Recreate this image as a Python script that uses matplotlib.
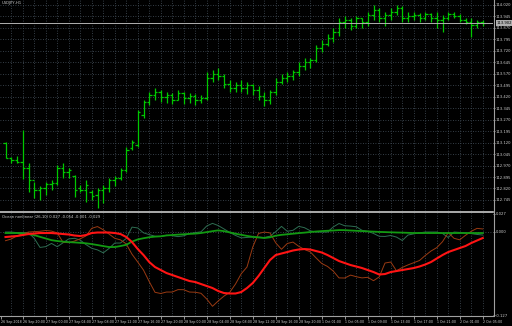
import numpy as np
import matplotlib
matplotlib.use("Agg")
import matplotlib.pyplot as plt

# USDJPY H1 bars
bar_open = [113.117, 113.020, 113.006, 112.993, 112.954, 112.876, 112.810, 112.823, 112.849, 112.856,
            112.954, 112.928, 112.902, 112.823, 112.810, 112.797, 112.777, 112.810, 112.823, 112.876,
            112.889, 112.941, 113.085, 113.104, 113.301, 113.386, 113.431, 113.451, 113.418, 113.431,
            113.399, 113.444, 113.412, 113.425, 113.399, 113.412, 113.543, 113.569, 113.556, 113.503,
            113.477, 113.497, 113.477, 113.497, 113.464, 113.425, 113.399, 113.451, 113.516, 113.543,
            113.556, 113.582, 113.621, 113.647, 113.660, 113.739, 113.765, 113.804, 113.843, 113.909,
            113.922, 113.883, 113.935, 113.909, 113.955, 113.987, 113.935, 113.955, 113.974, 114.000,
            113.935, 113.948, 113.955, 113.935, 113.961, 113.935, 113.922, 113.935, 113.961, 113.948,
            113.922, 113.909, 113.889, 113.909]
bar_high = [113.124, 113.026, 113.033, 113.203, 112.987, 112.862, 112.836, 112.862, 112.876, 112.974,
            112.987, 112.954, 112.908, 112.843, 112.876, 112.810, 112.823, 112.843, 112.889, 112.902,
            112.954, 113.091, 113.137, 113.333, 113.399, 113.451, 113.477, 113.464, 113.451, 113.444,
            113.464, 113.451, 113.444, 113.438, 113.431, 113.582, 113.595, 113.608, 113.569, 113.530,
            113.516, 113.530, 113.516, 113.503, 113.490, 113.451, 113.464, 113.543, 113.569, 113.582,
            113.595, 113.647, 113.673, 113.673, 113.758, 113.791, 113.830, 113.870, 113.935, 113.948,
            113.935, 113.948, 113.935, 113.974, 114.020, 114.000, 113.974, 114.000, 114.020, 114.013,
            113.974, 113.974, 113.968, 113.974, 113.968, 113.974, 113.955, 113.974, 113.974, 113.961,
            113.935, 113.935, 113.922, 113.922]
bar_low = [113.020, 112.987, 112.987, 112.882, 112.797, 112.758, 112.745, 112.777, 112.810, 112.843,
           112.889, 112.889, 112.764, 112.797, 112.732, 112.745, 112.693, 112.725, 112.797, 112.836,
           112.876, 112.928, 113.072, 113.091, 113.281, 113.366, 113.399, 113.386, 113.379, 113.373,
           113.399, 113.373, 113.379, 113.366, 113.379, 113.399, 113.516, 113.530, 113.477, 113.451,
           113.451, 113.451, 113.438, 113.431, 113.399, 113.359, 113.373, 113.431, 113.503, 113.516,
           113.530, 113.556, 113.595, 113.608, 113.647, 113.713, 113.752, 113.778, 113.817, 113.870,
           113.857, 113.870, 113.870, 113.883, 113.922, 113.909, 113.883, 113.922, 113.955, 113.909,
           113.909, 113.922, 113.909, 113.922, 113.909, 113.870, 113.843, 113.922, 113.935, 113.909,
           113.896, 113.811, 113.870, 113.883]
bar_close = [113.020, 113.006, 112.993, 112.954, 112.876, 112.810, 112.823, 112.849, 112.856, 112.954,
             112.928, 112.941, 112.810, 112.810, 112.843, 112.771, 112.810, 112.823, 112.876, 112.889,
             112.941, 113.072, 113.124, 113.320, 113.386, 113.431, 113.451, 113.418, 113.431, 113.399,
             113.444, 113.412, 113.425, 113.399, 113.412, 113.543, 113.569, 113.556, 113.503, 113.477,
             113.497, 113.477, 113.497, 113.464, 113.425, 113.399, 113.451, 113.516, 113.543, 113.556,
             113.582, 113.621, 113.647, 113.660, 113.739, 113.765, 113.804, 113.843, 113.909, 113.922,
             113.883, 113.935, 113.909, 113.955, 113.987, 113.935, 113.955, 113.974, 114.000, 113.935,
             113.948, 113.955, 113.935, 113.961, 113.935, 113.922, 113.935, 113.961, 113.948, 113.922,
             113.909, 113.889, 113.909, 113.902]

# indicator lines, in thousandths
red_line = [-8.3, -7.5, -6.8, -5.3, -3.8, -3.0, -2.3, -2.3, -2.3, -3.0, -3.8, -4.5, -6.0, -6.8, -5.3,
            -2.3, -1.5, -1.5, -1.5, -2.3, -3.8, -8.3, -15.8, -26.3, -35.3, -45.8, -53.3, -57.8, -62.3,
            -65.3, -68.3, -71.3, -74.3, -75.8, -78.8, -81.8, -84.8, -89.3, -92.3, -93.0, -93.0, -90.8,
            -84.8, -77.3, -66.8, -54.8, -42.8, -35.3, -33.0, -30.8, -28.5, -27.0, -26.3, -27.0, -29.3,
            -31.5, -35.3, -39.8, -44.3, -47.3, -50.3, -52.5, -54.8, -57.8, -60.8, -64.5, -63.8, -60.8,
            -59.3, -57.8, -56.3, -54.8, -52.5, -49.5, -45.8, -40.5, -35.3, -30.8, -27.8, -24.8, -21.8,
            -17.3, -13.5, -9.8]
brown_line = [-13.8, -11.3, -6.5, -3.5, -0.8, -0.2, 0.3, 1.5, 0.6, -2.1, -16.2, -16.8, -14.3, -11.0,
              -6.6, 4.8, 7.4, 2.6, -3.8, -10.2, -12.6, -18.6, -34.1, -45.8, -57.9, -75.2, -91.2, -93.0,
              -90.8, -90.8, -87.2, -87.3, -90.8, -91.1, -92.7, -101.3, -112.2, -104.1, -96.9, -91.2,
              -78.8, -63.3, -53.3, -23.3, -3.0, -0.9, -2.1, -17.1, -26.7, -18.0, -15.9, -22.2, -27.0,
              -30.5, -39.5, -48.0, -52.4, -59.3, -69.6, -69.8, -65.4, -67.8, -69.6, -68.7, -73.8, -68.1,
              -47.3, -45.8, -59.0, -53.9, -50.1, -46.8, -43.5, -36.0, -29.3, -24.2, -15.3, -1.7, -10.2,
              -12.5, -5.7, 0.3, 4.7, 3.8]
teal_line = [-0.8, -0.8, -1.7, -1.8, -1.7, -10.2, -23.9, -22.7, -17.9, -22.8, -17.0, -11.1, -10.2, -12.9,
             -19.7, -25.2, -27.6, -32.0, -25.5, -17.3, -17.3, -10.4, 6.6, 5.3, -2.0, -4.7, -7.1, -7.4,
             -5.7, -6.3, -7.7, -6.5, -3.0, -1.7, -0.5, 8.3, 12.2, 8.9, 3.8, -1.4, -5.9, -9.6, -8.9, -8.3,
             -8.3, -9.0, -7.1, -0.2, 7.7, 0.3, 1.8, 7.7, 5.7, 1.1, -0.8, -0.8, -0.8, 6.8, 12.0, 8.6, 8.1,
             7.1, 1.8, 0.2, -2.9, -7.2, -7.4, -6.0, -8.4, -13.5, -5.3, -3.6, -2.0, -0.8, -0.8, -0.8, -3.0,
             -9.0, -0.8, -1.4, -2.0, -3.2, -4.4, -5.3]
green_line = [-2.3, -2.3, -2.3, -2.7, -4.0, -5.4, -8.0, -10.5, -13.0, -14.3, -15.2, -15.9, -16.4, -17.0,
              -17.7, -18.9, -20.3, -21.9, -23.3, -23.3, -21.8, -20.0, -15.2, -11.9, -10.1, -8.6, -7.7,
              -7.2, -5.9, -5.3, -4.7, -4.2, -3.6, -3.2, -2.3, -0.9, 0.5, 1.7, 0.5, -1.4, -3.3, -5.0, -6.6,
              -8.0, -8.9, -9.8, -8.7, -6.3, -5.0, -4.2, -3.3, -2.4, -1.7, -0.8, 0.0, 0.6, 1.1, 1.5, 2.1,
              2.0, 1.5, 1.1, 0.6, 0.2, -0.2, -0.6, -0.9, -1.2, -1.5, -1.7, -2.0, -2.3, -2.3, -2.3, -2.3,
              -2.3, -2.3, -2.3, -2.3, -2.3, -2.3, -2.3, -2.3, -2.3]

price_labels = [114.020 - 0.075 * k for k in range(18)]
bid_price = 113.902
time_bars = [-0.75] + list(range(3, 84, 4))
time_labels = ["26 Sep 2018", "26 Sep 20:00", "27 Sep 00:00", "27 Sep 04:00", "27 Sep 08:00",
               "27 Sep 12:00", "27 Sep 16:00", "27 Sep 20:00", "28 Sep 00:00", "28 Sep 04:00",
               "28 Sep 08:00", "28 Sep 12:00", "28 Sep 16:00", "28 Sep 20:00", "1 Oct 01:00",
               "1 Oct 05:00", "1 Oct 09:00", "1 Oct 13:00", "1 Oct 17:00", "1 Oct 21:00",
               "2 Oct 01:00", "2 Oct 05:00"]

W, H = 512, 326
fig = plt.figure(figsize=(W / 100, H / 100), dpi=100)
fig.patch.set_facecolor("black")

grid_c = "#46525e"
txt_c = "#d0d0d0"
fs = 2.7

ax = fig.add_axes([0, (H - 211) / H, 493 / W, 211 / H], facecolor="black")
ax2 = fig.add_axes([0, (H - 316) / H, 493 / W, 103 / H], facecolor="black")

# bar i sits at pixel 5.5 + 5.75 * i
xl = (-5.5 / 5.75, (493 - 5.5) / 5.75)
for a in (ax, ax2):
    a.set_xlim(*xl)
    for s in a.spines.values():
        s.set_visible(False)
    for b in range(1, 84, 2):
        a.axvline(b, color=grid_c, lw=0.6, ls=(0, (1, 2)), zorder=0)

ax.set_ylim(114.020 - 206 * 0.00654, 114.020 + 5 * 0.00654)
for p in price_labels:
    ax.axhline(p, color=grid_c, lw=0.6, ls=(0, (1, 2)), zorder=0)

# OHLC bars
bar_c = "#00c800"
x = np.arange(len(bar_close))
ax.vlines(x, bar_low, bar_high, color=bar_c, lw=0.9)
ax.hlines(bar_open, x - 0.4, x, color=bar_c, lw=0.9)
ax.hlines(bar_close, x, x + 0.4, color=bar_c, lw=0.9)
ax.axhline(bid_price, color="#b0b0b0", lw=0.7)

ax.yaxis.tick_right()
ax.set_yticks(price_labels)
ax.set_yticklabels([f"{p:.3f}" for p in price_labels])
ax.tick_params(axis="y", colors=txt_c, labelsize=fs, length=1.5, width=0.5, pad=0.6)
ax.set_xticks([])
ax.text(0.004, 0.995, "USDJPY,H1", transform=ax.transAxes, color=txt_c, fontsize=fs, va="top")
ax.text(1.008, bid_price, f"{bid_price:.3f}", transform=ax.get_yaxis_transform(), color="black",
        fontsize=fs, va="center", ha="left",
        bbox=dict(boxstyle="square,pad=0.15", fc="#b0b0b0", ec="none"))

# indicator panel
ax2.set_ylim(-126.75, 27.75)
ax2.axhline(0, color=grid_c, lw=0.6, ls=(0, (1, 2)), zorder=0)
ax2.plot(x, teal_line, color="#2e6e52", lw=0.7)
ax2.plot(x, brown_line, color="#9a3a12", lw=0.7)
ax2.plot(x, green_line, color="#129a12", lw=1.3)
ax2.plot(x, red_line, color="#ff1414", lw=1.5)
ax2.yaxis.tick_right()
ax2.set_yticks([26.5, 0, -125.5])
ax2.set_yticklabels(["0.027", "0.000", "-0.127"])
ax2.tick_params(axis="y", colors=txt_c, labelsize=fs, length=1.5, width=0.5, pad=0.6)
ax2.set_xticks(time_bars)
ax2.set_xticklabels(time_labels, ha="left")
ax2.tick_params(axis="x", colors=txt_c, labelsize=2.3, length=2, width=0.5, pad=0.8)
ax2.text(0.004, 0.985, "Ocean nonlinear (26,10) 0.027 -0.054 -0.001 -0.029", transform=ax2.transAxes,
         color=txt_c, fontsize=fs, va="top")

# frame lines
fig.add_artist(plt.Line2D([0, 493 / W], [1 - 212 / H] * 2, color="#c8c8c8", lw=1.2))
fig.add_artist(plt.Line2D([493.5 / W] * 2, [1 - 316 / H, 1], color="#a0a0a0", lw=0.8))
fig.add_artist(plt.Line2D([0, 493 / W], [1 - 316 / H] * 2, color="#a0a0a0", lw=0.8))

fig.savefig("out.png", dpi=100, facecolor="black")
